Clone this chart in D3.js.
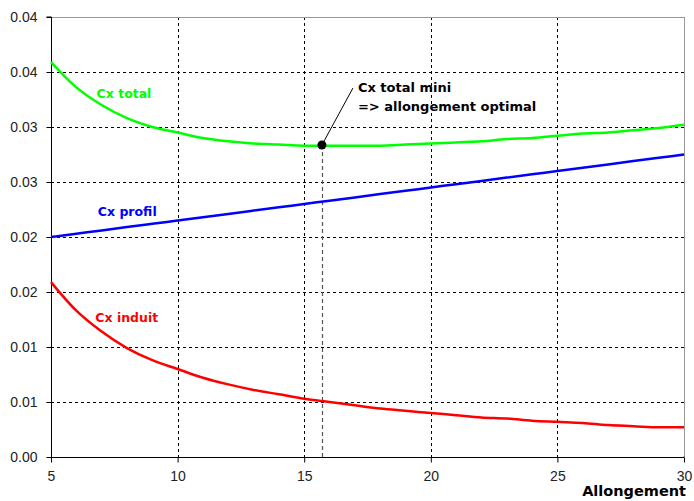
<!DOCTYPE html>
<html><head><meta charset="utf-8">
<script src="https://cdn.jsdelivr.net/npm/d3@7/dist/d3.min.js"></script>
<style>body{margin:0;background:#fff}svg{display:block}text{font-family:"Liberation Sans",Arial,sans-serif}.b{font-family:"DejaVu Sans",sans-serif;font-weight:bold}</style>
</head><body><svg id="c" width="694" height="501"></svg>
<script>
const allongement = [5,6,7,8,9,10,11,12,13,14,15,16,17,18,19,20,21,22,23,24,25,26,27,28,29,30];
const cxInduit = [0.0159,0.0133,0.0114,0.0099,0.0088,0.0080,0.0072,0.0066,0.0061,0.0057,0.0053,0.0050,0.0047,0.0044,0.0042,0.0040,0.0038,0.0036,0.0035,0.0033,0.0032,0.0031,0.0029,0.0028,0.0027,0.0027];
const cxProfil = [0.0200,0.0203,0.0206,0.0209,0.0212,0.0215,0.0218,0.0221,0.0224,0.0227,0.0230,0.0233,0.0236,0.0239,0.0242,0.0245,0.0248,0.0251,0.0254,0.0257,0.0260,0.0263,0.0266,0.0269,0.0272,0.0275];
const cxTotal = [0.0359,0.0336,0.0320,0.0308,0.0300,0.0295,0.0290,0.0287,0.0285,0.0284,0.0283,0.0283,0.0283,0.0283,0.0284,0.0285,0.0286,0.0287,0.0289,0.0290,0.0292,0.0294,0.0295,0.0297,0.0299,0.0302];
const xTicks = [5,10,15,20,25,30];
const yTicks = [0,0.005,0.01,0.015,0.02,0.025,0.03,0.035,0.04];
const yTickLabels = ["0.00","0.01","0.01","0.02","0.02","0.03","0.03","0.04","0.04"];
const optimum = {x:15.7, y:0.02836};
const seriesLabels = [
  {name:"Cx total", color:"#00ff00", x:6.8, y:0.0326},
  {name:"Cx profil", color:"#0000ff", x:6.85, y:0.0219},
  {name:"Cx induit", color:"#ff0000", x:6.75, y:0.0123}
];

const svg = d3.select("#c");
const L=51, R=684, T=17, B=457;
const x = d3.scaleLinear().domain([5,30]).range([L,R]);
const y = d3.scaleLinear().domain([0,0.04]).range([B,T]);

// grid
const g = svg.append("g");
g.selectAll("line.v").data(xTicks.slice(1,-1)).join("line")
  .attr("x1",d=>Math.round(x(d))+0.5).attr("x2",d=>Math.round(x(d))+0.5)
  .attr("y1",T).attr("y2",B).attr("stroke","#000").attr("stroke-dasharray","3,3");
g.selectAll("line.h").data(yTicks.slice(1,-1)).join("line")
  .attr("y1",d=>Math.round(y(d))+0.5).attr("y2",d=>Math.round(y(d))+0.5)
  .attr("x1",L).attr("x2",R).attr("stroke","#000").attr("stroke-dasharray","3,3");
// top/right border
svg.append("line").attr("x1",L).attr("x2",R+0.5).attr("y1",T+0.5).attr("y2",T+0.5).attr("stroke","#999");
svg.append("line").attr("x1",R+0.5).attr("x2",R+0.5).attr("y1",T).attr("y2",B).attr("stroke","#999");

// optimum vertical dashed
svg.append("line").attr("x1",Math.round(x(optimum.x))+0.5).attr("x2",Math.round(x(optimum.x))+0.5)
  .attr("y1",y(optimum.y)).attr("y2",B).attr("stroke","#555").attr("stroke-width",1.2).attr("stroke-dasharray","4,3");

// axes
const ax = svg.append("g").attr("transform",`translate(0,${B+0.5})`)
  .call(d3.axisBottom(x).tickValues(xTicks).tickSize(5).tickPadding(9).tickFormat(d3.format("d")));
const ay = svg.append("g").attr("transform",`translate(${L+0.5},0)`)
  .call(d3.axisLeft(y).tickValues(yTicks).tickSize(5).tickPadding(9).tickFormat((d,i)=>yTickLabels[i]));
[ax,ay].forEach(a=>{
  a.select(".domain").attr("stroke","#000");
  a.selectAll(".tick line").attr("stroke","#000");
  a.selectAll(".tick text").attr("fill","#222").style("font-size","14px").style("font-family","'Liberation Sans',Arial,sans-serif");
});
ay.select(".domain").attr("d",`M-5,${T}H0V${B}`);
ax.select(".domain").attr("d",`M${L},0H${R}V-1`);

// lines
const line = d3.line().x((d,i)=>x(allongement[i])).y(d=>y(d)).curve(d3.curveMonotoneX);
[[cxProfil,"#0000ff"],[cxInduit,"#ff0000"],[cxTotal,"#00ff00"]].forEach(([data,c])=>{
  svg.append("path").datum(data).attr("d",line).attr("fill","none").attr("stroke",c).attr("stroke-width",2.5);
});

// labels
svg.selectAll("text.lab").data(seriesLabels).join("text").attr("class","b")
  .attr("x",d=>x(d.x)).attr("y",d=>y(d.y)).attr("fill",d=>d.color)
  .style("font-size","12.5px").text(d=>d.name);

// annotation
const mx=x(optimum.x), my=y(optimum.y);
svg.append("line").attr("x1",mx).attr("y1",my).attr("x2",mx+31).attr("y2",my-57).attr("stroke","#000");
svg.append("circle").attr("cx",mx).attr("cy",my).attr("r",4.5).attr("fill","#000");
svg.append("text").attr("class","b").attr("x",mx+36).attr("y",my-53).style("font-size","13px").text("Cx total mini");
svg.append("text").attr("class","b").attr("x",mx+36).attr("y",my-34).style("font-size","13px").text("=> allongement optimal");

svg.append("text").attr("class","b").attr("x",R+2).attr("y",496).attr("text-anchor","end")
  .style("font-size","14.5px").text("Allongement");
</script></body></html>
